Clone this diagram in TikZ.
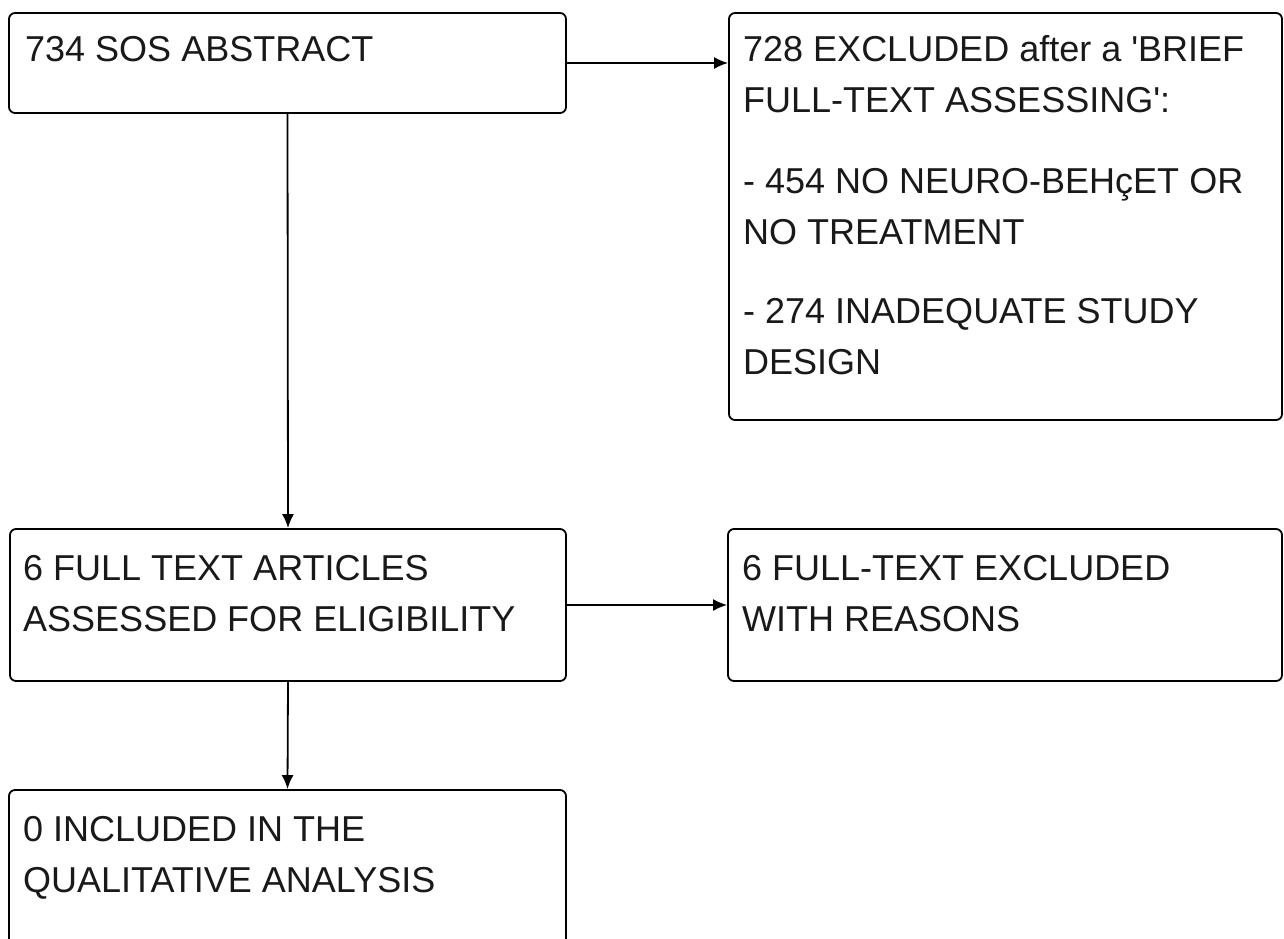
\documentclass[tikz,border=0pt]{standalone}
\usepackage{fontspec}
\setmainfont{Liberation Sans}
\usetikzlibrary{arrows.meta,calc}
\tikzset{
  box/.style={draw=black, line width=1.8pt, rounded corners=6pt, inner sep=0pt},
  txt/.style={anchor=base west, inner sep=0pt, font=\fontsize{36}{51}\selectfont, text=black!90},
  arr/.style={draw=black, line width=1.8pt, -{Latex[length=14pt,width=12pt]}}
}
\begin{document}
\begin{tikzpicture}[x=1pt,y=-1pt]
\useasboundingbox (0,0) rectangle (1284,938);
% boxes
\node[box, minimum width=557pt, minimum height=100pt] (A) at (287.5,63) {};
\node[box, minimum width=553pt, minimum height=407pt] (B) at (1005.5,216.5) {};
\node[box, minimum width=556pt, minimum height=152pt] (C) at (288,605) {};
\node[box, minimum width=554pt, minimum height=152pt] (D) at (1005,605) {};
\node[box, minimum width=557pt, minimum height=220pt] (E) at (287.5,900) {};
% texts
\node[txt] (tA) at (25,61.5) {734 SOS ABSTRACT};
\node[txt] (tB1) at (743,61.5) {728 EXCLUDED after a \textquotesingle BRIEF};
\node[txt] (tB2) at (743,112.5) {FULL-TEXT ASSESSING\textquotesingle:};
\node[txt] (tB3) at (743,193.5) {- 454 NO NEURO-BEHçET OR};
\node[txt] (tB4) at (743,244.5) {NO TREATMENT};
\node[txt] (tB5) at (743,323.5) {- 274 INADEQUATE STUDY};
\node[txt] (tB6) at (743,374.5) {DESIGN};
\node[txt] (tC1) at (23,580.5) {6 FULL TEXT ARTICLES};
\node[txt] (tC2) at (23,631.5) {ASSESSED FOR ELIGIBILITY};
\node[txt] (tD1) at (742,580.5) {6 FULL-TEXT EXCLUDED};
\node[txt] (tD2) at (742,631.5) {WITH REASONS};
\node[txt] (tE1) at (23,841.5) {0 INCLUDED IN THE};
\node[txt] (tE2) at (23,892.5) {QUALITATIVE ANALYSIS};
% connectors
\draw[arr] (A.east) -- (A.east -| B.west);
\draw[arr] (A.south) -- (C.north);
\draw[arr] (C.east) -- (D.west);
\draw[arr] (C.south) -- (E.north);
\end{tikzpicture}
\end{document}
